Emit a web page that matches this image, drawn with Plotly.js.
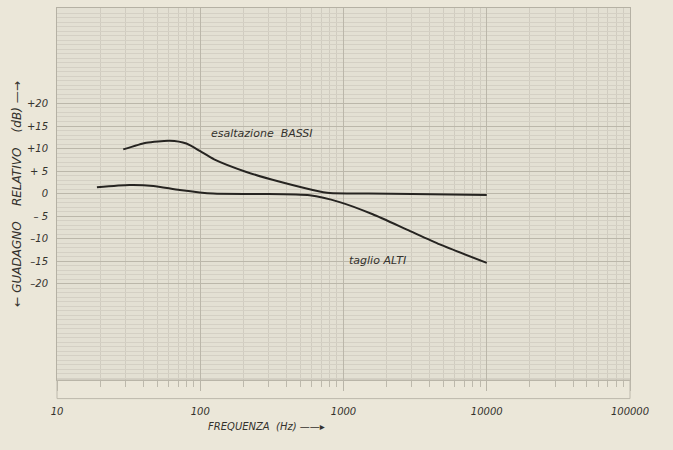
<!DOCTYPE html>
<html>
<head>
<meta charset="utf-8">
<script src="https://cdn.plot.ly/plotly-3.0.1.min.js"></script>
<style>
html,body{margin:0;padding:0;background:#ebe7d9;}
#chart{width:673px;height:450px;}
</style>
</head>
<body>
<div id="chart"></div>
<script>
// Bass boost curve ("esaltazione BASSI")
var bassFreq = [29, 42, 61, 80, 100, 125, 210, 360, 610, 800, 1500, 3000, 10000];
var bassGain = [9.8, 11.3, 11.7, 11.1, 9.4, 7.6, 4.8, 2.6, 0.8, 0.1, 0.0, -0.1, -0.3];
// Treble cut curve ("taglio ALTI")
var trebleFreq = [19, 32, 47, 72, 123, 260, 580, 940, 1600, 2770, 4700, 10000];
var trebleGain = [1.4, 1.9, 1.7, 0.8, 0.0, -0.1, -0.4, -1.9, -4.6, -8.0, -11.3, -15.4];
// Tick labels
var xTickVals = [10, 100, 1000, 10000, 100000];
var xTickText = ["10", "100", "1000", "10000", "100000"];
var yTickVals = [20, 15, 10, 5, 0, -5, -10, -15, -20];
var yTickText = ["+20", "+15", "+10", "+ 5", "0", "\u2013 5", "\u201310", "\u201315", "\u201320"];

var ink = '#262421';
var txt = '#34322d';
var fam = 'DejaVu Sans, Liberation Sans, sans-serif';
var lineStyle = {color: ink, width: 2, shape: 'spline', smoothing: 0.6};
var traces = [
  {x: bassFreq, y: bassGain, type: 'scatter', mode: 'lines', line: lineStyle, name: 'esaltazione BASSI'},
  {x: trebleFreq, y: trebleGain, type: 'scatter', mode: 'lines', line: lineStyle, name: 'taglio ALTI'}
];

function f(size) { return {family: fam, size: size, color: txt, style: 'italic'}; }

var layout = {
  width: 673, height: 450,
  margin: {l: 57, r: 43, t: 8, b: 70},
  paper_bgcolor: '#ebe7d9',
  plot_bgcolor: '#e3e0d3',
  showlegend: false,
  font: f(10),
  xaxis: {
    type: 'log', range: [1, 5],
    tickvals: xTickVals, ticktext: xTickText,
    tickfont: f(10),
    ticks: 'outside', ticklen: 10, tickcolor: '#b9b5a8', tickwidth: 1,
    ticklabelstandoff: 12,
    showgrid: true, gridcolor: '#bbb7aa', gridwidth: 1,
    minor: {dtick: 'D1', showgrid: true, gridcolor: '#d0ccc0', gridwidth: 1, ticks: 'outside', ticklen: 6, tickcolor: '#bdb9ac'},
    zeroline: false, showline: true, linecolor: '#b5b1a4', mirror: true
  },
  yaxis: {
    range: [-41.4, 41.2],
    tickvals: yTickVals, ticktext: yTickText,
    tickfont: f(10),
    ticks: '', ticklabelstandoff: 6,
    showgrid: true, gridcolor: '#bbb7aa', gridwidth: 1,
    minor: {dtick: 1, showgrid: true, gridcolor: '#d4d0c4', gridwidth: 1},
    zeroline: false, showline: true, linecolor: '#b5b1a4', mirror: true,
    title: {text: '\u2190 GUADAGNO    RELATIVO    (dB) \u2014\u2192', font: f(12), standoff: 2}
  },
  shapes: [
    {type: 'rect', xref: 'paper', yref: 'paper', x0: 0, x1: 1, y0: -0.05, y1: 0, line: {color: '#bdb9ac', width: 1}, fillcolor: 'rgba(0,0,0,0)'}
  ],
  annotations: [
    {x: Math.log10(270), y: 13.4, xref: 'x', yref: 'y', text: 'esaltazione  BASSI', showarrow: false, font: f(11)},
    {x: Math.log10(1740), y: -14.8, xref: 'x', yref: 'y', text: 'taglio ALTI', showarrow: false, font: f(11)},
    {x: 0.26, y: -0.125, xref: 'paper', yref: 'paper', xanchor: 'left', yanchor: 'middle', text: 'FREQUENZA  (Hz) \u2014\u2014\u25B8', showarrow: false, font: f(10)}
  ]
};

Plotly.newPlot('chart', traces, layout, {staticPlot: true});
</script>
</body>
</html>
